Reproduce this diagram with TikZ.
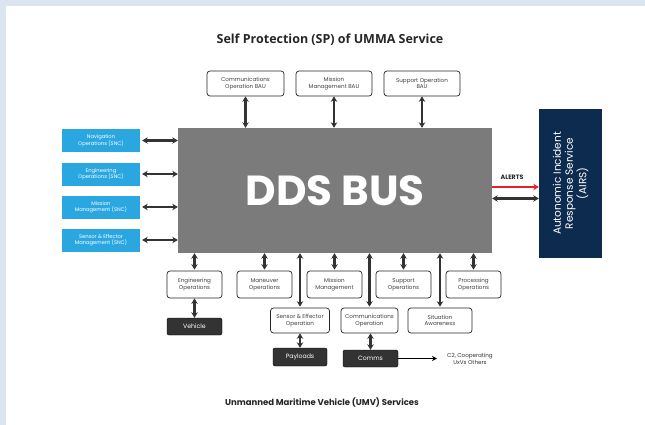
\documentclass[tikz,border=0pt]{standalone}
\usepackage{fontspec}
\setmainfont{Poppins}
\newfontfamily\titlefont{Open Sans}
\usetikzlibrary{arrows.meta}
\definecolor{outerbg}{HTML}{DAE5EF}
\definecolor{skyblue}{HTML}{2AA7E1}
\definecolor{busgray}{HTML}{7B7B7B}
\definecolor{navy}{HTML}{0D2A4F}
\definecolor{alertred}{HTML}{E8202A}
\definecolor{darkbox}{HTML}{333333}
\tikzset{
  wbox/.style={draw=black!85, line width=0.7pt, rounded corners=3pt, fill=white, align=center,
    font=\fontsize{5.6}{6.6}\selectfont, inner sep=0pt, text=black!75},
  bbox/.style={fill=skyblue, align=center, font=\fontsize{5.2}{6.4}\selectfont, text=white, inner sep=0pt,
    minimum width=78pt, minimum height=23pt},
  dbox/.style={fill=darkbox, draw=black, rounded corners=2pt, text=white, align=center,
    font=\fontsize{6.2}{7}\selectfont, inner sep=0pt},
  dbl/.style={draw=darkbox, line width=2.1pt, {Stealth[length=5.5pt,width=6.5pt]}-{Stealth[length=5.5pt,width=6.5pt]}},
}
\begin{document}
\begin{tikzpicture}[x=1pt,y=-1pt]
\fill[outerbg] (0,0) rectangle (645,425);
\fill[white] (6,6) rectangle (645,425);
\useasboundingbox (0,0) rectangle (645,425);

\node[font=\titlefont\fontsize{12.5}{14}\selectfont\bfseries, text=black!85] (title) at (330,40) {Self Protection (SP) of UMMA Service};

% bus
\node[fill=busgray, minimum width=314pt, minimum height=125pt, inner sep=0pt,
  font=\fontsize{42}{42}\selectfont\bfseries, text=white] (bus) at (335,190.5) {DDS BUS};

% top boxes
\node[wbox, minimum width=77pt, minimum height=25pt] (t1) at (245.5,83.5) {Communications\\Operation BAU};
\node[wbox, minimum width=76pt, minimum height=25pt] (t2) at (334,83.5) {Mission\\Management BAU};
\node[wbox, minimum width=76pt, minimum height=25pt] (t3) at (422,83.5) {Support Operation\\BAU};
\foreach \n in {t1,t2,t3}{ \draw[dbl] (\n.south) -- (\n.south |- bus.north); }

% left blue boxes
\node[bbox] (l1) at (101,140.5) {Navigation\\Operations (SNC)};
\node[bbox] (l2) at (101,174) {Engineering\\Operations (SNC)};
\node[bbox] (l3) at (101,207) {Mission\\Management (SNC)};
\node[bbox] (l4) at (101,240) {Sensor \& Effector\\Management (SNC)};
\foreach \n in {l1,l2,l3,l4}{ \draw[dbl] ([xshift=2pt]\n.east) -- (\n.east -| bus.west); }

% AIRS
\node[fill=navy, minimum width=63pt, minimum height=149pt, inner sep=0pt] (airs) at (570.5,183.5) {};
\node[rotate=90, text=white, align=center, font=\fontsize{10.5}{12}\selectfont] (airstext) at (airs.center) {Autonomic Incident\\Response Service\\(AIRS)};
\coordinate (ra) at (bus.east |- 0,187);
\coordinate (rb) at (bus.east |- 0,198.5);
\draw[alertred, line width=2pt, -{Stealth[length=5.5pt,width=6.5pt]}] (ra) -- (ra -| airs.west);
\node[font=\fontsize{6.3}{7}\selectfont\bfseries, text=black!85] (alerts) at (512,177.5) {ALERTS};
\draw[dbl] (rb) -- (rb -| airs.west);

% bottom row 1
\node[wbox, minimum width=55pt, minimum height=27pt] (b1) at (194.5,284.5) {Engineering\\Operations};
\node[wbox, minimum width=55pt, minimum height=27pt] (b2) at (264.5,284.5) {Maneuver\\Operations};
\node[wbox, minimum width=55pt, minimum height=27pt] (b3) at (334.5,284.5) {Mission\\Management};
\node[wbox, minimum width=55pt, minimum height=27pt] (b4) at (403.5,284.5) {Support\\Operations};
\node[wbox, minimum width=55pt, minimum height=27pt] (b5) at (473.5,284.5) {Processing\\Operations};
\foreach \n in {b1,b2,b3,b4,b5}{ \draw[dbl] ([yshift=1pt]\n.north) -- (\n.north |- bus.south); }

% bottom row 2
\node[wbox, minimum width=59pt, minimum height=25pt] (c1) at (300,320.5) {Sensor \& Effector\\Operation};
\node[wbox, minimum width=57pt, minimum height=25pt] (c2) at (369.5,320.5) {Communications\\Operation};
\node[wbox, minimum width=64pt, minimum height=25pt] (c3) at (440,320.5) {Situation\\Awareness};
\foreach \n in {c1,c2,c3}{ \draw[dbl] ([yshift=1pt]\n.north) -- (\n.north |- bus.south); }

% dark boxes
\node[dbox, minimum width=55pt, minimum height=17pt] (veh) at (194.5,326.5) {Vehicle};
\node[dbox, minimum width=54pt, minimum height=18pt] (pay) at (300,357) {Payloads};
\node[dbox, minimum width=55pt, minimum height=17pt] (com) at (370.5,358.5) {Comms};
\draw[dbl] (b1.south) -- (veh.north);
\draw[dbl] (c1.south) -- (pay.north);
\draw[dbl] (c2.south -| com.north) -- (com.north);
\coordinate (cend) at (437,358.5);
\draw[black, line width=0.9pt, -{Stealth[length=5pt,width=5pt]}] (com.east) -- (cend);
\node[align=center, font=\fontsize{5.6}{6.8}\selectfont, text=black!80] (c2txt) at (470,359) {C2, Cooperating\\UxVs Others};

\node[font=\fontsize{8.5}{10}\selectfont\bfseries, text=black!85] (foot) at (322,403) {Unmanned Maritime Vehicle (UMV) Services};
\end{tikzpicture}
\end{document}
